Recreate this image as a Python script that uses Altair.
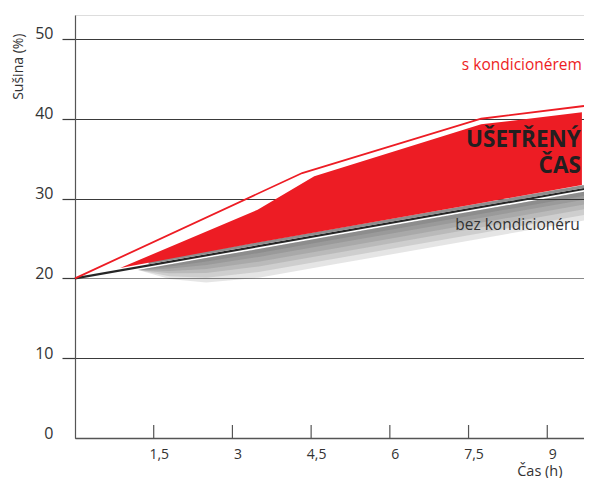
import altair as alt
import pandas as pd

# --- data ---
x_ticks = [1.5, 3, 4.5, 6, 7.5, 9]
y_ticks = [0, 10, 20, 30, 40, 50]

# bez kondicionéru (black line)
black_x = [0, 9.7]
black_y = [20, 31.2]
# grey 3D edge between the black line and the red band
edge_x = [1.4, 9.7]
edge_y = [21.95, 31.5]

# s kondicionérem (red outline)
red_x = [0, 4.33, 7.74, 9.7]
red_y = [20, 33.2, 40.0, 41.6]

# ušetřený čas (red filled band)
fill_x = [0.86, 3.48, 4.56, 7.74, 9.66]
fill_top = [21.3, 28.6, 32.8, 39.3, 40.8]
fill_bot = [21.3, 24.5, 25.75, 29.45, 31.7]

# soft drop shadow bands under the black line (top edge, then lower edges)
sh_x = [1.2, 1.8, 2.5, 3.5, 5.0, 9.7]
sh_top = [21.04, 21.73, 22.54, 23.69, 25.42, 30.85]
sh_bots = [
    [21.04, 21.48, 22.12, 23.19, 24.92, 30.35],
    [21.04, 21.23, 21.69, 22.69, 24.42, 29.85],
    [21.04, 20.93, 21.18, 22.09, 23.82, 29.25],
    [21.04, 20.63, 20.67, 21.49, 23.22, 28.65],
    [21.04, 20.28, 20.08, 20.79, 22.52, 27.95],
    [21.04, 19.93, 19.48, 20.09, 21.82, 27.25],
]

labels_txt = ["s kondicionérem", "UŠETŘENÝ\nČAS", "bez kondicionéru"]
labels_x = [9.66, 9.64, 9.62]
labels_y = [46.7, 36.5, 26.7]

FONT = "Open Sans"
RED = "#ED1C24"

xscale = alt.Scale(domain=[0, 9.7], nice=False, zero=False)
yscale = alt.Scale(domain=[0, 53], nice=False, zero=False)

xaxis = alt.Axis(
    values=x_ticks,
    labelExpr="replace(format(datum.value, '~g'), '.', ',')",
    ticks=False, grid=False,
    domainColor="#555555", domainWidth=1.5,
    labelFont=FONT, labelFontSize=14, labelColor="#333333",
    labelPadding=9, labelOffset=5,
    title="Čas (h)", titleFont=FONT, titleFontSize=14.5, titleFontWeight="normal",
    titleColor="#333333", titleX=487, titleY=40, titleAlign="right", titleBaseline="bottom",
)
yaxis = alt.Axis(
    values=y_ticks,
    grid=True,
    gridColor={"condition": {"test": "datum.value == 20", "value": "#8a8a8a"}, "value": "#3a3a3a"},
    gridWidth=1.2,
    tickSize=13, tickWidth=1.2,
    tickColor={"condition": {"test": "datum.value == 0", "value": "transparent"}, "value": "#3a3a3a"},
    domainColor="#555555", domainWidth=1.2,
    labelFont=FONT, labelFontSize=16, labelColor="#333333",
    labelPadding=9, labelBaseline="alphabetic",
    title="Sušina (%)", titleFont=FONT, titleFontSize=14, titleFontWeight="normal",
    titleColor="#333333", titleAngle=270, titleX=-57, titleY=18,
    titleAlign="right", titleBaseline="middle",
)

X = alt.X("x:Q", scale=xscale, axis=xaxis)
Y = alt.Y("y:Q", scale=yscale, axis=yaxis)

def df(**cols):
    return pd.DataFrame(cols)

shadows = []
for bot in sh_bots:
    shadows.append(
        alt.Chart(df(x=sh_x, y=sh_top, y2=bot))
        .mark_area(color="#333333", opacity=0.13)
        .encode(x=X, y=Y, y2="y2:Q")
    )

black = alt.Chart(df(x=black_x, y=black_y)).mark_line(color="#262626", strokeWidth=2.2).encode(x=X, y=Y)
edge = alt.Chart(df(x=edge_x, y=edge_y)).mark_line(color="#8f8f8f", strokeWidth=3).encode(x=X, y=Y)
fill = alt.Chart(df(x=fill_x, y=fill_top, y2=fill_bot)).mark_area(color=RED, opacity=1).encode(x=X, y=Y, y2="y2:Q")
red = alt.Chart(df(x=red_x, y=red_y)).mark_line(color=RED, strokeWidth=1.8).encode(x=X, y=Y)

ticks = alt.Chart(df(x=x_ticks)).mark_rule(color="#555555", strokeWidth=1.2).encode(
    x=X, y=alt.value(423), y2=alt.value(410)
)

tdf = df(x=labels_x, y=labels_y, t=labels_txt)
t_red = alt.Chart(tdf.iloc[[0]]).mark_text(
    font=FONT, fontSize=15.5, color=RED, align="right", baseline="middle"
).encode(x=X, y=Y, text="t:N")
t_bold = alt.Chart(tdf.iloc[[1]]).mark_text(
    font=FONT, fontSize=22.5, fontWeight="bold", color="#231f20", align="right",
    baseline="alphabetic", lineBreak="\n", lineHeight=26,
).encode(x=X, y=Y, text="t:N")
t_black = alt.Chart(tdf.iloc[[2]]).mark_text(
    font=FONT, fontSize=15.5, color="#333333", align="right", baseline="middle"
).encode(x=X, y=Y, text="t:N")

chart = alt.layer(
    *shadows, black, edge, fill, red, ticks, t_red, t_bold, t_black
).properties(
    width=509, height=423,
    autosize=alt.AutoSizeParams(type="none"),
    padding={"left": 67, "top": 7, "right": 0, "bottom": 40},
).configure_view(stroke=None).configure(background="white")

chart.save("out.html", embed_options={"renderer": "svg", "actions": False})
